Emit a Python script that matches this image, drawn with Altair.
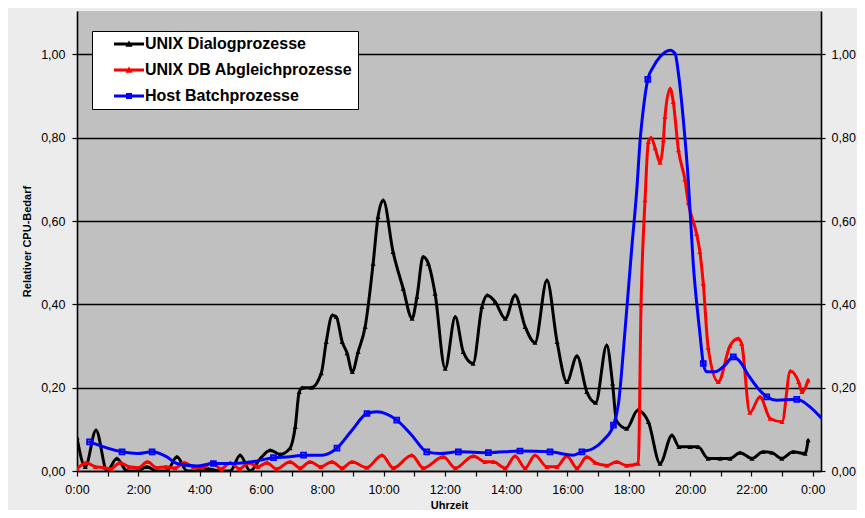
import altair as alt
import pandas as pd

# ---- data (hours since 0:00, relative CPU demand) ----
series_names = ["UNIX Dialogprozesse", "UNIX DB Abgleichprozesse", "Host Batchprozesse"]
series_colors = ["#000000", "#ff0000", "#0000ff"]

dlg_t = [0.00, 0.27, 0.62, 0.98, 1.30, 1.63, 1.96, 2.28, 2.61, 2.93, 3.26, 3.59, 3.91, 4.28, 4.67,
         5.00, 5.32, 5.65, 5.98, 6.30, 6.63, 6.95, 7.12, 7.25, 7.35, 7.64, 7.97, 8.13, 8.33, 8.46,
         8.65, 8.81, 8.98, 9.17, 9.40, 9.66, 9.82, 9.99, 10.31, 10.64, 10.93, 11.09, 11.29, 11.46,
         11.68, 12.01, 12.34, 12.60, 12.92, 13.21, 13.38, 13.64, 13.97, 14.29, 14.62, 14.94, 15.33,
         15.66, 15.98, 16.31, 16.63, 16.92, 17.28, 17.47, 17.60, 17.93, 18.29, 18.64, 19.02, 19.41,
         19.64, 20.00, 20.26, 20.59, 20.98, 21.30, 21.63, 22.02, 22.38, 22.67, 22.99, 23.36, 23.75,
         23.85]
dlg_v = [0.080, 0.010, 0.098, 0.000, 0.030, 0.000, 0.000, 0.010, 0.000, 0.000, 0.034, 0.000, 0.000,
         0.005, 0.000, 0.000, 0.038, 0.000, 0.030, 0.050, 0.040, 0.055, 0.106, 0.190, 0.200, 0.200,
         0.235, 0.310, 0.374, 0.370, 0.310, 0.283, 0.238, 0.286, 0.346, 0.498, 0.610, 0.650, 0.526,
         0.438, 0.366, 0.418, 0.514, 0.498, 0.426, 0.246, 0.370, 0.286, 0.258, 0.394, 0.422, 0.406,
         0.366, 0.422, 0.346, 0.308, 0.458, 0.310, 0.214, 0.276, 0.190, 0.164, 0.302, 0.210, 0.120,
         0.102, 0.146, 0.118, 0.018, 0.086, 0.058, 0.058, 0.058, 0.030, 0.030, 0.030, 0.044, 0.030,
         0.046, 0.044, 0.030, 0.046, 0.042, 0.074]

db_t = [0.00, 0.30, 0.60, 0.90, 1.10, 1.40, 1.70, 2.00, 2.30, 2.60, 2.90, 3.20, 3.50, 3.80, 4.10,
        4.40, 4.70, 5.00, 5.30, 5.60, 5.90, 6.20, 6.50, 6.95, 7.28, 7.60, 7.95, 8.32, 8.65, 8.97,
        9.45, 9.95, 10.32, 10.92, 11.30, 11.95, 12.34, 12.93, 13.31, 13.58, 13.97, 14.29, 14.62,
        14.94, 15.33, 15.65, 15.98, 16.31, 16.63, 16.90, 17.28, 17.60, 17.93, 18.31, 18.40, 18.53,
        18.64, 18.73, 18.86, 19.02, 19.13, 19.18, 19.35, 19.45, 19.62, 19.83, 19.94, 20.21, 20.32,
        20.43, 20.59, 20.92, 21.30, 21.57, 21.68, 21.95, 22.28, 22.61, 23.00, 23.27, 23.54, 23.65,
        23.85]
db_v = [0.005, 0.020, 0.010, 0.008, 0.005, 0.020, 0.010, 0.008, 0.022, 0.008, 0.010, 0.007, 0.020,
        0.010, 0.008, 0.020, 0.005, 0.020, 0.005, 0.020, 0.010, 0.020, 0.005, 0.022, 0.007, 0.022,
        0.010, 0.022, 0.007, 0.022, 0.008, 0.038, 0.007, 0.038, 0.007, 0.034, 0.007, 0.036, 0.022,
        0.022, 0.007, 0.036, 0.007, 0.038, 0.010, 0.010, 0.036, 0.007, 0.034, 0.020, 0.013, 0.022,
        0.013, 0.018, 0.400, 0.650, 0.790, 0.800, 0.775, 0.740, 0.794, 0.850, 0.918, 0.886, 0.770,
        0.700, 0.644, 0.570, 0.526, 0.450, 0.296, 0.214, 0.300, 0.318, 0.306, 0.140, 0.178, 0.126,
        0.118, 0.240, 0.214, 0.190, 0.218]

bh_t = [0.41, 1.47, 1.96, 2.45, 2.93, 3.26, 3.91, 4.45, 5.11, 5.71, 6.41, 6.95, 7.39, 7.99, 8.48,
        8.97, 9.46, 9.78, 10.43, 10.92, 11.41, 11.85, 12.44, 13.42, 14.45, 15.43, 16.19, 16.47,
        16.84, 17.17, 17.50, 17.66, 17.88, 18.10, 18.26, 18.37, 18.47, 18.62, 18.80, 19.02, 19.35,
        19.51, 19.62, 19.78, 19.94, 20.10, 20.32, 20.43, 20.54, 20.81, 21.14, 21.41, 21.63, 21.90,
        22.22, 22.50, 22.82, 23.48, 23.91, 24.27]
bh_v = [0.070, 0.046, 0.042, 0.046, 0.034, 0.018, 0.012, 0.018, 0.018, 0.022, 0.032, 0.034, 0.038,
        0.038, 0.055, 0.098, 0.138, 0.142, 0.122, 0.086, 0.046, 0.042, 0.046, 0.044, 0.048, 0.046,
        0.038, 0.046, 0.054, 0.074, 0.110, 0.160, 0.340, 0.538, 0.674, 0.794, 0.866, 0.940, 0.970,
        0.994, 1.010, 1.002, 0.954, 0.842, 0.698, 0.500, 0.330, 0.258, 0.238, 0.238, 0.254, 0.274,
        0.262, 0.230, 0.198, 0.178, 0.170, 0.172, 0.154, 0.128]
# times of the Host-Batch samples that carry a visible square marker
bh_marked = [0.41, 1.47, 2.45, 4.45, 6.41, 7.39, 8.48, 9.46, 10.43, 11.41, 12.44, 13.42, 14.45,
             15.43, 16.47, 17.50, 18.62, 20.43, 21.41, 22.50, 23.48]

y_ticks = [0.0, 0.2, 0.4, 0.6, 0.8, 1.0]
x_ticks = list(range(0, 25))

assert len(dlg_t) == len(dlg_v) and len(db_t) == len(db_v) and len(bh_t) == len(bh_v)

rows = []
for name, ts, vs in zip(series_names, [dlg_t, db_t, bh_t], [dlg_v, db_v, bh_v]):
    for t, v in zip(ts, vs):
        rows.append({"series": name, "t": t, "v": v})
df = pd.DataFrame(rows)

FONT = "Liberation Sans"
X_DOMAIN = [0, 24.27]
Y_DOMAIN = [0, 1.104]

x_enc = alt.X("t:Q", scale=alt.Scale(domain=X_DOMAIN, nice=False, zero=False),
              axis=alt.Axis(values=x_ticks, title="Uhrzeit",
                            labelExpr="datum.value % 2 == 0 ? (datum.value % 24) + ':00' : ''",
                            grid=False, tickSize=5, labelPadding=7, titlePadding=4,
                            labelFlush=False, labelOverlap=False))
y_left = alt.Y("v:Q", scale=alt.Scale(domain=Y_DOMAIN, nice=False),
               axis=alt.Axis(values=y_ticks, orient="left", title="Relativer CPU-Bedarf",
                             labelExpr="replace(format(datum.value, '.2f'), '.', ',')",
                             grid=True, gridColor="#000000", gridWidth=1.3,
                             tickSize=5, labelPadding=7, titlePadding=8))
y_right = alt.Y("v:Q", scale=alt.Scale(domain=Y_DOMAIN, nice=False),
                axis=alt.Axis(values=y_ticks, orient="right", title=None,
                              labelExpr="replace(format(datum.value, '.2f'), '.', ',')",
                              grid=False, tickSize=4, labelPadding=6))

base = alt.Chart(df)

layers = []
for name, col in zip(series_names, series_colors):
    sub = base.transform_filter(alt.datum.series == name)
    layers.append(sub.mark_line(color=col, strokeWidth=3, interpolate="monotone", clip=True,
                                strokeJoin="round", strokeCap="round")
                  .encode(x=x_enc, y=y_left))
    if name == series_names[2]:
        layers.append(sub.transform_filter(alt.FieldOneOfPredicate(field="t", oneOf=bh_marked))
                      .mark_point(shape="square", filled=False, color=col, size=24,
                                  strokeWidth=1.8, opacity=1, clip=True)
                      .encode(x=x_enc, y=y_left))
    else:
        layers.append(sub.mark_point(shape="triangle-up", filled=True, color=col, size=26,
                                     opacity=1, clip=True).encode(x=x_enc, y=y_left))

data_layer = alt.layer(*layers)

# legend-only / right-axis layer (draws no marks)
tri_path = "M-2.5,-0.25L2.5,-0.25L2.5,0.25L-2.5,0.25Z M-0.6,0.45L0,-0.6L0.6,0.45Z"
sq_path = "M-2.5,-0.25L2.5,-0.25L2.5,0.25L-2.5,0.25Z M-0.5,-0.5L0.5,-0.5L0.5,0.5L-0.5,0.5Z"
legend = alt.Legend(title=None, orient="none", legendX=15, legendY=20,
                    fillColor="#ffffff", strokeColor="#000000", padding=5,
                    symbolOffset=24, labelOffset=8, rowPadding=10, symbolSize=144,
                    labelFont=FONT, labelFontSize=16, labelFontWeight="bold",
                    labelColor="#000000", labelLimit=400, symbolStrokeWidth=0)
right_layer = base.transform_filter("datum.v < -1").mark_point(filled=True, opacity=1).encode(
    x=x_enc, y=y_right,
    color=alt.Color("series:N", scale=alt.Scale(domain=series_names, range=series_colors),
                    legend=legend),
    shape=alt.Shape("series:N", scale=alt.Scale(domain=series_names,
                                               range=[tri_path, tri_path, sq_path]),
                    legend=legend),
)

chart = (
    alt.layer(data_layer, right_layer)
    .resolve_scale(y="independent")
    .properties(width=744, height=460,
                autosize=alt.AutoSizeParams(type="none"),
                padding={"left": 69, "top": 3, "right": 36, "bottom": 39},
                background="#ececec")
    .configure_view(fill="#c0c0c0", strokeWidth=0)
    .configure_axis(domainColor="#000000", domainWidth=1.6, tickColor="#000000", tickWidth=1.2,
                    labelFont=FONT, labelFontSize=12.5, labelColor="#000000",
                    titleFont=FONT, titleFontSize=11, titleFontWeight="bold",
                    titleColor="#000000")
)

chart.save("out.html", embed_options={"renderer": "svg", "actions": False})
